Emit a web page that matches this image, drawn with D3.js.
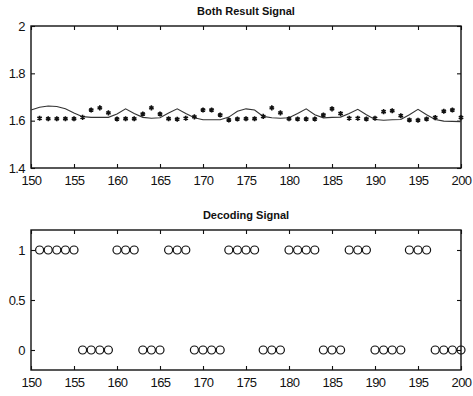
<!DOCTYPE html>
<html>
<head>
<meta charset="utf-8">
<script src="https://cdn.jsdelivr.net/npm/d3@7"></script>
<style>
  body { margin: 0; background: #fff; }
  svg { display: block; }
</style>
</head>
<body>
<svg id="chart" width="473" height="396"></svg>
<script>
// sample index axis
const lineSamples = d3.range(150, 201);   // 150..200, line
const dotSamples = d3.range(151, 201);    // 151..200, markers

// Both Result Signal: smoothed line
const resultLine = [
  1.645, 1.657, 1.662, 1.660, 1.650, 1.632, 1.617, 1.614, 1.614, 1.614,
  1.628, 1.650, 1.630, 1.614, 1.610, 1.612, 1.632, 1.650, 1.630, 1.612,
  1.604, 1.604, 1.604, 1.615, 1.640, 1.650, 1.645, 1.618, 1.612, 1.610,
  1.612, 1.630, 1.650, 1.625, 1.612, 1.614, 1.615, 1.630, 1.648, 1.625,
  1.605, 1.602, 1.604, 1.605, 1.625, 1.648, 1.625, 1.605, 1.598, 1.597,
  1.596
];

// Both Result Signal: received samples (*)
const resultDots = [
  1.610, 1.608, 1.608, 1.608, 1.608, 1.614, 1.645, 1.654, 1.633, 1.607,
  1.608, 1.608, 1.628, 1.654, 1.628, 1.608, 1.606, 1.610, 1.616, 1.645,
  1.645, 1.624, 1.603, 1.607, 1.608, 1.608, 1.618, 1.654, 1.633, 1.608,
  1.607, 1.607, 1.607, 1.624, 1.650, 1.630, 1.610, 1.610, 1.607, 1.610,
  1.638, 1.642, 1.621, 1.603, 1.602, 1.607, 1.613, 1.640, 1.645, 1.613
];

// Decoding Signal bits (o)
const decodedBits = [
  1, 1, 1, 1, 1, 0, 0, 0, 0, 1,
  1, 1, 0, 0, 0, 1, 1, 1, 0, 0,
  0, 0, 1, 1, 1, 1, 0, 0, 0, 1,
  1, 1, 1, 0, 0, 0, 1, 1, 1, 0,
  0, 0, 0, 1, 1, 1, 0, 0, 0, 0
];

const xTicks = [150, 155, 160, 165, 170, 175, 180, 185, 190, 195, 200];
const topYTicks = [1.4, 1.6, 1.8, 2];
const bottomYTicks = [0, 0.5, 1];
const titles = ["Both Result Signal", "Decoding Signal"];

const font = '"Liberation Sans", Arial, sans-serif';
const ink = "#111";

const svg = d3.select("#chart");
const left = 31, right = 461;

function panel(top, bottom, yDomain, yTicks, yFmt, title) {
  const x = d3.scaleLinear().domain([150, 200]).range([left, right]);
  const y = d3.scaleLinear().domain(yDomain).range([bottom, top]);
  const g = svg.append("g");

  // box
  g.append("rect")
    .attr("x", left).attr("y", top)
    .attr("width", right - left).attr("height", bottom - top)
    .attr("fill", "none").attr("stroke", ink).attr("stroke-width", 1.4);

  // axes with inward ticks (MATLAB style)
  const styleAxis = sel => {
    sel.select(".domain").remove();
    sel.selectAll("line").attr("stroke", ink).attr("stroke-width", 1.1);
    sel.selectAll("text")
      .style("font-family", font)
      .style("font-size", "13px")
      .style("letter-spacing", "-0.6px")
      .attr("fill", ink);
  };

  g.append("g").attr("transform", `translate(0,${bottom})`)
    .call(d3.axisBottom(x).tickValues(xTicks).tickFormat(d3.format("d"))
      .tickSizeInner(-4).tickSizeOuter(0).tickPadding(8))
    .call(styleAxis);
  g.append("g").attr("transform", `translate(0,${top})`)
    .call(d3.axisTop(x).tickValues(xTicks).tickFormat("")
      .tickSizeInner(-4).tickSizeOuter(0))
    .call(styleAxis);
  g.append("g").attr("transform", `translate(${left},0)`)
    .call(d3.axisLeft(y).tickValues(yTicks).tickFormat(yFmt)
      .tickSizeInner(-4).tickSizeOuter(0).tickPadding(6))
    .call(styleAxis);
  g.append("g").attr("transform", `translate(${right},0)`)
    .call(d3.axisRight(y).tickValues(yTicks).tickFormat("")
      .tickSizeInner(-4).tickSizeOuter(0))
    .call(styleAxis);

  svg.append("text")
    .attr("x", (left + right) / 2)
    .attr("y", top - 11)
    .attr("text-anchor", "middle")
    .style("font-family", font)
    .style("font-size", "11px")
    .style("font-weight", "bold")
    .attr("fill", ink)
    .text(title);

  return { g, x, y };
}

// top panel
const p1 = panel(26, 168, [1.4, 2], topYTicks, d => d === 2 ? "2" : d3.format(".1f")(d), titles[0]);

p1.g.append("path")
  .datum(resultLine)
  .attr("fill", "none")
  .attr("stroke", "#333")
  .attr("stroke-width", 1.1)
  .attr("d", d3.line().x((d, i) => p1.x(lineSamples[i])).y(d => p1.y(d)));

const star = d3.symbol().type(d3.symbolAsterisk).size(18);
p1.g.selectAll("path.dot")
  .data(resultDots)
  .join("path")
  .attr("class", "dot")
  .attr("transform", (d, i) => `translate(${p1.x(dotSamples[i])},${p1.y(d)})`)
  .attr("d", star)
  .attr("fill", "none")
  .attr("stroke", ink)
  .attr("stroke-width", 1.6);

// bottom panel
const p2 = panel(230, 370, [-0.2, 1.2], bottomYTicks, d => d === 0.5 ? "0.5" : d3.format("d")(d), titles[1]);

p2.g.selectAll("circle.bit")
  .data(decodedBits)
  .join("circle")
  .attr("class", "bit")
  .attr("cx", (d, i) => p2.x(dotSamples[i]))
  .attr("cy", d => p2.y(d))
  .attr("r", 4)
  .attr("fill", "none")
  .attr("stroke", ink)
  .attr("stroke-width", 1.2);
</script>
</body>
</html>
